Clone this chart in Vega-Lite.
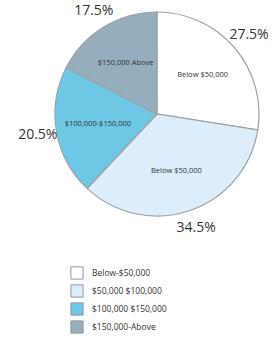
{
 "$schema": "https://vega.github.io/schema/vega-lite/v6.json",
 "width": 232, "height": 228,
 "autosize": {"type": "none"},
 "padding": {"left": 41, "top": 0, "right": 0, "bottom": 109},
 "background": "white",
 "data": {"values": [
   {"category": "Below-$50,000", "inner": "Below $50,000", "pct": 27.5, "label": "27.5%", "order": 1},
   {"category": "$50,000 $100,000", "inner": "Below $50,000", "pct": 34.5, "label": "34.5%", "order": 2},
   {"category": "$100,000 $150,000", "inner": "$100,000-$150,000", "pct": 20.5, "label": "20.5%", "order": 3},
   {"category": "$150,000-Above", "inner": "$150,000 Above", "pct": 17.5, "label": "17.5%", "order": 4}
 ]},
 "encoding": {
   "theta": {"field": "pct", "type": "quantitative", "stack": true},
   "order": {"field": "order", "type": "quantitative"},
   "color": {
     "field": "category", "type": "nominal", "sort": null,
     "scale": {"domain": ["Below-$50,000", "$50,000 $100,000", "$100,000 $150,000", "$150,000-Above"],
               "range": ["#ffffff", "#dceefb", "#6dc8e6", "#94aebe"]},
     "legend": {"orient": "none", "legendX": 29, "legendY": 266, "title": null,
                "symbolType": "square", "symbolSize": 150, "symbolStrokeColor": "#999999",
                "symbolStrokeWidth": 1, "labelFontSize": 8.5, "labelFont": "Open Sans",
                "labelColor": "#333333", "rowPadding": 0, "padding": 0, "labelOffset": 8}
   }
 },
 "layer": [
   {"mark": {"type": "arc", "outerRadius": 102, "stroke": "#a0a0a0", "strokeWidth": 1.2}},
   {"mark": {"type": "text", "radius": 60, "fontSize": 7.5, "font": "Open Sans"},
    "encoding": {"text": {"field": "inner"}, "color": {"value": "#333333"}}},
   {"mark": {"type": "text", "radius": 121, "fontSize": 14, "font": "Open Sans"},
    "encoding": {"text": {"field": "label"}, "color": {"value": "#333333"}}}
 ]
}
